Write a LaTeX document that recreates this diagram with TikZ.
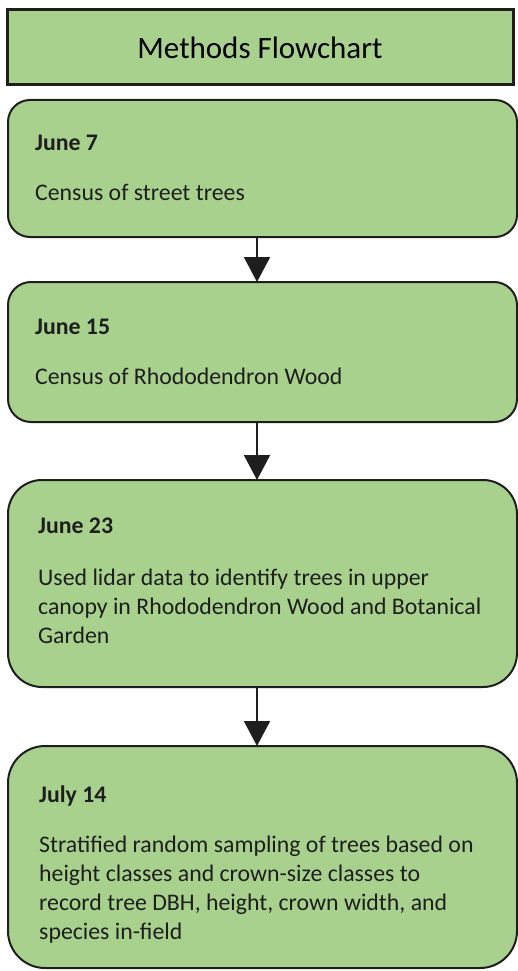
\documentclass[tikz,border=0pt]{standalone}
\usepackage{fontspec}
\setmainfont{Carlito}
\usepackage{tikz}
\usetikzlibrary{arrows.meta, positioning}
\definecolor{leaf}{HTML}{A9D18E}
\definecolor{edge}{HTML}{1E1E1E}
\newcommand{\toplines}[1]{\begin{tabular}[t]{@{}l@{}}#1\end{tabular}}

\begin{document}
\begin{tikzpicture}[x=1pt, y=1pt,
      node distance=15pt,
      titlebox/.style={rectangle, draw=edge, line width=3pt, fill=leaf,
                       minimum width=506pt, minimum height=75pt, outer sep=0pt,
                       font=\fontsize{31}{37}\selectfont, inner sep=0pt},
      stage/.style={rectangle, draw=edge, line width=2pt, fill=leaf,
                    minimum width=509pt, outer sep=0pt, inner sep=0pt},
      date/.style={anchor=base west, inner sep=0pt, text=edge,
                   font=\fontsize{23.8}{29}\selectfont\bfseries},
      desc/.style={anchor=base west, inner sep=0pt, text=edge,
                   font=\fontsize{23.8}{29}\selectfont},
      arr/.style={-{Triangle[length=25pt, width=26pt]}, line width=2pt, draw=edge},
      ]
    \useasboundingbox (0,0) rectangle (518,-971);
    \node[titlebox] (title) at (260,-47.5) {Methods Flowchart};
    \node[stage, below=15pt of title, xshift=2.5pt, minimum height=137pt, rounded corners=22pt] (jun7) {};
    \node[stage, below=45pt of jun7, minimum height=140pt, rounded corners=23pt] (jun15) {};
    \node[stage, below=58pt of jun15, minimum height=207pt, rounded corners=34pt] (jun23) {};
    \node[stage, below=59pt of jun23, minimum height=222pt, rounded corners=37pt] (jul14) {};

    % dates and what was done
    \node[date] (jun7date) at ([shift={(27,-50)}]jun7.north west) {June 7};
    \node[desc] (jun7text) at ([shift={(27,-100)}]jun7.north west) {Census of street trees};
    \node[date] (jun15date) at ([shift={(27,-52)}]jun15.north west) {June 15};
    \node[desc] (jun15text) at ([shift={(27,-102)}]jun15.north west) {Census of Rhododendron Wood};
    \node[date] (jun23date) at ([shift={(30,-53)}]jun23.north west) {June 23};
    \node[desc] (jun23text) at ([shift={(30,-105)}]jun23.north west)
      {\toplines{Used lidar data to identify trees in upper\\canopy in Rhododendron Wood and Botanical\\Garden}};
    \node[date] (jul14date) at ([shift={(31,-56)}]jul14.north west) {July 14};
    \node[desc] (jul14text) at ([shift={(31,-106)}]jul14.north west)
      {\toplines{Stratified random sampling of trees based on\\height classes and crown-size classes to\\record tree DBH, height, crown width, and\\species in-field}};

    \draw[arr] ([xshift=-5.5pt]jun7.south) -- ([xshift=-5.5pt]jun15.north);
    \draw[arr] ([xshift=-5.5pt]jun15.south) -- ([xshift=-5.5pt]jun23.north);
    \draw[arr] ([xshift=-5.5pt]jun23.south) -- ([xshift=-5.5pt]jul14.north);
  \end{tikzpicture}
\end{document}
